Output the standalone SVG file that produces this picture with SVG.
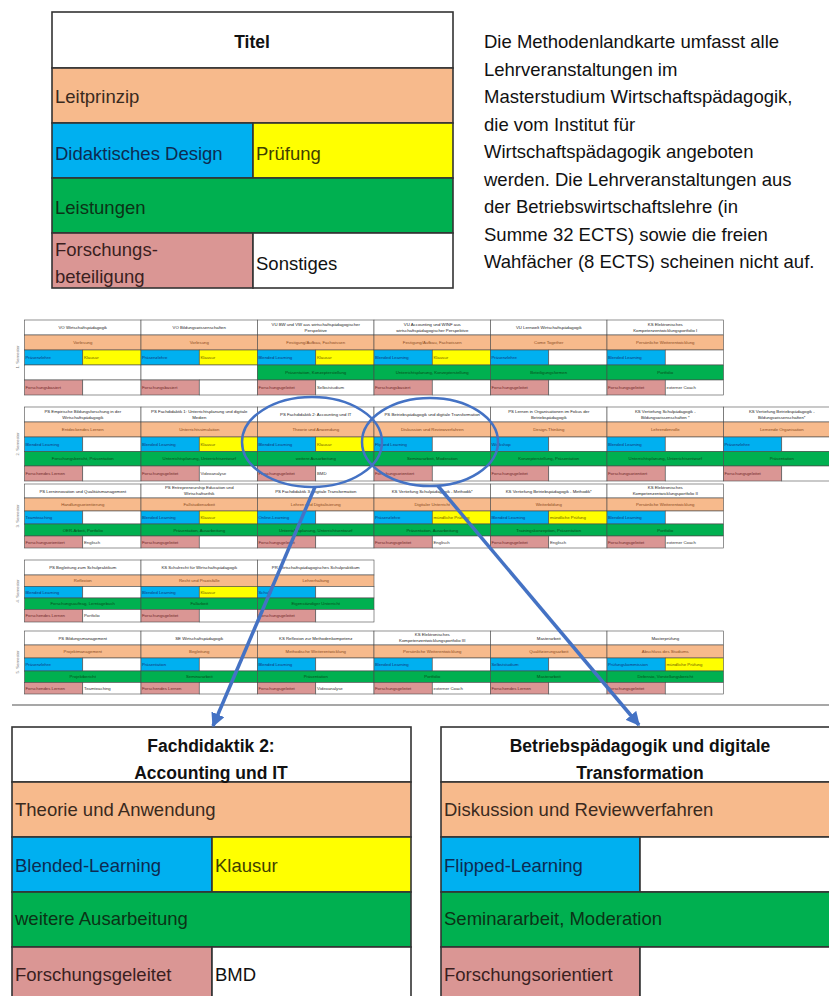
<svg xmlns="http://www.w3.org/2000/svg" width="829" height="996" viewBox="0 0 829 996">
<defs>
<style>
text{font-family:"Liberation Sans",Arial,sans-serif}
.h,.o,.b,.y,.g,.p,.w{stroke:#4a4a4a;stroke-width:0.6}
.h,.w{fill:#fff}.o{fill:#F7BA8C}.b{fill:#00B0F0}.y{fill:#FFFF00}.g{fill:#00B050}.p{fill:#DA9694}
.L .h,.L .o,.L .b,.L .y,.L .g,.L .p,.L .w{stroke:#333;stroke-width:1.6}
.th,.to,.tg{text-anchor:middle}
.gr text{font-size:4.3px}
.th{fill:#222}.to{fill:#8a4a1e}.tb{fill:#12357a}.ty{fill:#6b5a00}.tg{fill:#0a4a1a}.tp{fill:#6e2626}.tw{fill:#333}
.big{font-size:18.5px}
.bo{fill:#3a2a1e}.bb{fill:#0d2b52}.by{fill:#3f3f00}.bg{fill:#0b3316}.bp{fill:#3a1f1f}.bw{fill:#111}
.ttl{font-size:17.5px;font-weight:bold;text-anchor:middle;fill:#111}
.sem{font-size:4.3px;fill:#777;text-anchor:middle}
.para{font-size:18.5px;fill:#111}
</style>
<marker id="ah" viewBox="0 0 10 10" refX="9" refY="5" markerWidth="4" markerHeight="4" orient="auto" markerUnits="strokeWidth">
<path d="M0,0 L10,5 L0,10 Z" fill="#4472C4"/>
</marker>
</defs>
<rect width="829" height="996" fill="#fff"/>

<!-- Legend -->
<g id="legend" class="L">
<rect class="h" x="52" y="12" width="401" height="56"/>
<rect class="o" x="52" y="68" width="401" height="55"/>
<rect class="b" x="52" y="123" width="201" height="55"/>
<rect class="y" x="253" y="123" width="200" height="55"/>
<rect class="g" x="52" y="178" width="401" height="55"/>
<rect class="p" x="52" y="233" width="201" height="55"/>
<rect class="w" x="253" y="233" width="200" height="55"/>
<text class="ttl" x="252" y="48">Titel</text>
<text class="big bo" x="55" y="103">Leitprinzip</text>
<text class="big bb" x="55" y="160">Didaktisches Design</text>
<text class="big by" x="256" y="160">Prüfung</text>
<text class="big bg" x="55" y="214">Leistungen</text>
<text class="big bp" x="55" y="256">Forschungs-</text>
<text class="big bp" x="55" y="283">beteiligung</text>
<text class="big bw" x="256" y="270">Sonstiges</text>
</g>

<g id="description">
<text class="para" x="484" y="48">Die Methodenlandkarte umfasst alle</text>
<text class="para" x="484" y="75.5">Lehrveranstaltungen im</text>
<text class="para" x="484" y="103">Masterstudium Wirtschaftspädagogik,</text>
<text class="para" x="484" y="130.5">die vom Institut für</text>
<text class="para" x="484" y="158">Wirtschaftspädagogik angeboten</text>
<text class="para" x="484" y="185.5">werden. Die Lehrveranstaltungen aus</text>
<text class="para" x="484" y="213">der Betriebswirtschaftslehre (in</text>
<text class="para" x="484" y="240.5">Summe 32 ECTS) sowie die freien</text>
<text class="para" x="484" y="268">Wahfächer (8 ECTS) scheinen nicht auf.</text>
</g>

<!-- Grid -->
<g id="grid" class="gr">
<text class="sem" transform="translate(19,357) rotate(-90)">1. Semester</text>
<text class="sem" transform="translate(19,444) rotate(-90)">2. Semester</text>
<text class="sem" transform="translate(19,516) rotate(-90)">3. Semester</text>
<text class="sem" transform="translate(19,591) rotate(-90)">4. Semester</text>
<text class="sem" transform="translate(19,662) rotate(-90)">5. Semester</text>

<!-- Semester 1 -->
<g id="s1c1" transform="translate(24.5,320)">
<rect class="h" width="116.5" height="15"/><rect class="o" y="15" width="116.5" height="15"/>
<rect class="b" y="30" width="58.25" height="15"/><rect class="y" x="58.25" y="30" width="58.25" height="15"/>
<rect class="w" y="45" width="116.5" height="15"/>
<rect class="p" y="60" width="58.25" height="15"/><rect class="w" x="58.25" y="60" width="58.25" height="15"/>
<text class="th" x="58.25" y="9.1">VO Wirtschaftspädagogik</text>
<text class="to" x="58.25" y="24.1">Vorlesung</text>
<text class="tb" x="1" y="39.1">Präsenzlehre</text><text class="ty" x="59.5" y="39.1">Klausur</text>
<text class="tp" x="1" y="69.1">Forschungsbasiert</text>
</g>
<g id="s1c2" transform="translate(141,320)">
<rect class="h" width="116.5" height="15"/><rect class="o" y="15" width="116.5" height="15"/>
<rect class="b" y="30" width="58.25" height="15"/><rect class="y" x="58.25" y="30" width="58.25" height="15"/>
<rect class="w" y="45" width="116.5" height="15"/>
<rect class="p" y="60" width="58.25" height="15"/><rect class="w" x="58.25" y="60" width="58.25" height="15"/>
<text class="th" x="58.25" y="9.1">VO Bildungswissenschaften</text>
<text class="to" x="58.25" y="24.1">Vorlesung</text>
<text class="tb" x="1" y="39.1">Präsenzlehre</text><text class="ty" x="59.5" y="39.1">Klausur</text>
<text class="tp" x="1" y="69.1">Forschungsbasiert</text>
</g>
<g id="s1c3" transform="translate(257.5,320)">
<rect class="h" width="116.5" height="15"/><rect class="o" y="15" width="116.5" height="15"/>
<rect class="b" y="30" width="58.25" height="15"/><rect class="y" x="58.25" y="30" width="58.25" height="15"/>
<rect class="g" y="45" width="116.5" height="15"/>
<rect class="p" y="60" width="58.25" height="15"/><rect class="w" x="58.25" y="60" width="58.25" height="15"/>
<text class="th" x="58.25" y="5.6">VU BW und VW aus wirtschaftspädagogischer</text>
<text class="th" x="58.25" y="11.6">Perspektive</text>
<text class="to" x="58.25" y="24.1">Festigung/Aufbau, Fachwissen</text>
<text class="tb" x="1" y="39.1">Blended Learning</text><text class="ty" x="59.5" y="39.1">Klausur</text>
<text class="tg" x="58.25" y="54.1">Präsentation, Konzepterstellung</text>
<text class="tp" x="1" y="69.1">Forschungsgeleitet</text><text class="tw" x="59.5" y="69.1">Selbststudium</text>
</g>
<g id="s1c4" transform="translate(374,320)">
<rect class="h" width="116.5" height="15"/><rect class="o" y="15" width="116.5" height="15"/>
<rect class="b" y="30" width="58.25" height="15"/><rect class="y" x="58.25" y="30" width="58.25" height="15"/>
<rect class="g" y="45" width="116.5" height="15"/>
<rect class="p" y="60" width="58.25" height="15"/><rect class="w" x="58.25" y="60" width="58.25" height="15"/>
<text class="th" x="58.25" y="5.6">VU Accounting und WINF aus</text>
<text class="th" x="58.25" y="11.6">wirtschaftspädagogischer Perspektive</text>
<text class="to" x="58.25" y="24.1">Festigung/Aufbau, Fachwissen</text>
<text class="tb" x="1" y="39.1">Blended Learning</text><text class="ty" x="59.5" y="39.1">Klausur</text>
<text class="tg" x="58.25" y="54.1">Unterrichtsplanung, Konzepterstellung</text>
<text class="tp" x="1" y="69.1">Forschungsbasiert</text>
</g>
<g id="s1c5" transform="translate(490.5,320)">
<rect class="h" width="116.5" height="15"/><rect class="o" y="15" width="116.5" height="15"/>
<rect class="b" y="30" width="58.25" height="15"/><rect class="w" x="58.25" y="30" width="58.25" height="15"/>
<rect class="g" y="45" width="116.5" height="15"/>
<rect class="p" y="60" width="58.25" height="15"/><rect class="w" x="58.25" y="60" width="58.25" height="15"/>
<text class="th" x="58.25" y="9.1">VU Lernwelt Wirtschaftspädagogik</text>
<text class="to" x="58.25" y="24.1">Come Together</text>
<text class="tb" x="1" y="39.1">Präsenzlehre</text>
<text class="tg" x="58.25" y="54.1">Beteiligungsformen</text>
<text class="tp" x="1" y="69.1">Forschungsgeleitet</text>
</g>
<g id="s1c6" transform="translate(607,320)">
<rect class="h" width="116.5" height="15"/><rect class="o" y="15" width="116.5" height="15"/>
<rect class="b" y="30" width="58.25" height="15"/><rect class="w" x="58.25" y="30" width="58.25" height="15"/>
<rect class="g" y="45" width="116.5" height="15"/>
<rect class="p" y="60" width="58.25" height="15"/><rect class="w" x="58.25" y="60" width="58.25" height="15"/>
<text class="th" x="58.25" y="5.6">KS Elektronisches</text>
<text class="th" x="58.25" y="11.6">Kompetenzentwicklungsportfolio I</text>
<text class="to" x="58.25" y="24.1">Persönliche Weiterentwicklung</text>
<text class="tb" x="1" y="39.1">Blended Learning</text>
<text class="tg" x="58.25" y="54.1">Portfolio</text>
<text class="tp" x="1" y="69.1">Forschungsgeleitet</text><text class="tw" x="59.5" y="69.1">externer Coach</text>
</g>

<!-- Semester 2 -->
<g id="s2c1" transform="translate(24.5,407)">
<rect class="h" width="116.5" height="15"/><rect class="o" y="15" width="116.5" height="15"/>
<rect class="b" y="30" width="58.25" height="14.5"/><rect class="w" x="58.25" y="30" width="58.25" height="14.5"/>
<rect class="g" y="44.5" width="116.5" height="14.5"/>
<rect class="p" y="59" width="58.25" height="15"/><rect class="w" x="58.25" y="59" width="58.25" height="15"/>
<text class="th" x="58.25" y="5.6">PS Empirische Bildungsforschung in der</text>
<text class="th" x="58.25" y="11.6">Wirtschaftspädagogik</text>
<text class="to" x="58.25" y="24.1">Entdeckendes Lernen</text>
<text class="tb" x="1" y="38.9">Blended Learning</text>
<text class="tg" x="58.25" y="53.4">Forschungsbericht, Präsentation</text>
<text class="tp" x="1" y="68.1">Forschendes Lernen</text>
</g>
<g id="s2c2" transform="translate(141,407)">
<rect class="h" width="116.5" height="15"/><rect class="o" y="15" width="116.5" height="15"/>
<rect class="b" y="30" width="58.25" height="14.5"/><rect class="y" x="58.25" y="30" width="58.25" height="14.5"/>
<rect class="g" y="44.5" width="116.5" height="14.5"/>
<rect class="p" y="59" width="58.25" height="15"/><rect class="w" x="58.25" y="59" width="58.25" height="15"/>
<text class="th" x="58.25" y="5.6">PS Fachdidaktik 1: Unterrichtsplanung und digitale</text>
<text class="th" x="58.25" y="11.6">Medien</text>
<text class="to" x="58.25" y="24.1">Unterrichtssimulation</text>
<text class="tb" x="1" y="38.9">Blended Learning</text><text class="ty" x="59.5" y="38.9">Klausur</text>
<text class="tg" x="58.25" y="53.4">Unterrichtsplanung, Unterrichtsentwurf</text>
<text class="tp" x="1" y="68.1">Forschungsgeleitet</text><text class="tw" x="59.5" y="68.1">Videoanalyse</text>
</g>
<g id="s2c3" transform="translate(257.5,407)">
<rect class="h" width="116.5" height="15"/><rect class="o" y="15" width="116.5" height="15"/>
<rect class="b" y="30" width="58.25" height="14.5"/><rect class="y" x="58.25" y="30" width="58.25" height="14.5"/>
<rect class="g" y="44.5" width="116.5" height="14.5"/>
<rect class="p" y="59" width="58.25" height="15"/><rect class="w" x="58.25" y="59" width="58.25" height="15"/>
<text class="th" x="58.25" y="9.1">PS Fachdidaktik 2: Accounting und IT</text>
<text class="to" x="58.25" y="24.1">Theorie und Anwendung</text>
<text class="tb" x="1" y="38.9">Blended Learning</text><text class="ty" x="59.5" y="38.9">Klausur</text>
<text class="tg" x="58.25" y="53.4">weitere Ausarbeitung</text>
<text class="tp" x="1" y="68.1">Forschungsgeleitet</text><text class="tw" x="59.5" y="68.1">BMD</text>
</g>
<g id="s2c4" transform="translate(374,407)">
<rect class="h" width="116.5" height="15"/><rect class="o" y="15" width="116.5" height="15"/>
<rect class="b" y="30" width="58.25" height="14.5"/><rect class="w" x="58.25" y="30" width="58.25" height="14.5"/>
<rect class="g" y="44.5" width="116.5" height="14.5"/>
<rect class="p" y="59" width="58.25" height="15"/><rect class="w" x="58.25" y="59" width="58.25" height="15"/>
<text class="th" x="58.25" y="9.1">PS Betriebspädagogik und digitale Transformation</text>
<text class="to" x="58.25" y="24.1">Diskussion und Reviewverfahren</text>
<text class="tb" x="1" y="38.9">Flipped Learning</text>
<text class="tg" x="58.25" y="53.4">Seminararbeit, Moderation</text>
<text class="tp" x="1" y="68.1">Forschungsorientiert</text>
</g>
<g id="s2c5" transform="translate(490.5,407)">
<rect class="h" width="116.5" height="15"/><rect class="o" y="15" width="116.5" height="15"/>
<rect class="b" y="30" width="58.25" height="14.5"/><rect class="w" x="58.25" y="30" width="58.25" height="14.5"/>
<rect class="g" y="44.5" width="116.5" height="14.5"/>
<rect class="p" y="59" width="58.25" height="15"/><rect class="w" x="58.25" y="59" width="58.25" height="15"/>
<text class="th" x="58.25" y="5.6">PS Lernen in Organisationen im Fokus der</text>
<text class="th" x="58.25" y="11.6">Betriebspädagogik</text>
<text class="to" x="58.25" y="24.1">Design-Thinking</text>
<text class="tb" x="1" y="38.9">Workshop</text>
<text class="tg" x="58.25" y="53.4">Konzepterstellung, Präsentation</text>
<text class="tp" x="1" y="68.1">Forschungsgeleitet</text>
</g>
<g id="s2c6" transform="translate(607,407)">
<rect class="h" width="116.5" height="15"/><rect class="o" y="15" width="116.5" height="15"/>
<rect class="b" y="30" width="58.25" height="14.5"/><rect class="w" x="58.25" y="30" width="58.25" height="14.5"/>
<rect class="g" y="44.5" width="116.5" height="14.5"/>
<rect class="p" y="59" width="58.25" height="15"/><rect class="w" x="58.25" y="59" width="58.25" height="15"/>
<text class="th" x="58.25" y="5.6">KS Vertiefung Schulpädagogik -</text>
<text class="th" x="58.25" y="11.6">Bildungswissenschaften *</text>
<text class="to" x="58.25" y="24.1">Lehrendenrolle</text>
<text class="tb" x="1" y="38.9">Blended Learning</text>
<text class="tg" x="58.25" y="53.4">Unterrichtsplanung, Unterrichtsentwurf</text>
<text class="tp" x="1" y="68.1">Forschungsorientiert</text>
</g>
<g id="s2c7" transform="translate(723.5,407)">
<rect class="h" width="116.5" height="15"/><rect class="o" y="15" width="116.5" height="15"/>
<rect class="b" y="30" width="58.25" height="14.5"/><rect class="w" x="58.25" y="30" width="58.25" height="14.5"/>
<rect class="g" y="44.5" width="116.5" height="14.5"/>
<rect class="p" y="59" width="58.25" height="15"/><rect class="w" x="58.25" y="59" width="58.25" height="15"/>
<text class="th" x="58.25" y="5.6">KS Vertiefung Betriebspädagogik -</text>
<text class="th" x="58.25" y="11.6">Bildungswissenschaften*</text>
<text class="to" x="58.25" y="24.1">Lernende Organisation</text>
<text class="tb" x="1" y="38.9">Präsenzlehre</text>
<text class="tg" x="58.25" y="53.4">Präsentation</text>
<text class="tp" x="1" y="68.1">Forschungsgeleitet</text>
</g>

<!-- Semester 3 -->
<g id="s3c1" transform="translate(24.5,484)">
<rect class="h" width="116.5" height="14"/><rect class="o" y="14" width="116.5" height="13"/>
<rect class="b" y="27" width="58.25" height="13"/><rect class="w" x="58.25" y="27" width="58.25" height="13"/>
<rect class="g" y="40" width="116.5" height="12"/>
<rect class="p" y="52" width="58.25" height="12"/><rect class="w" x="58.25" y="52" width="58.25" height="12"/>
<text class="th" x="58.25" y="8.6">PS Lerninnovation und Qualitätsmanagement</text>
<text class="to" x="58.25" y="22.1">Handlungsorientierung</text>
<text class="tb" x="1" y="35.1">Teamteaching</text>
<text class="tg" x="58.25" y="47.6">OER-Arbeit, Portfolio</text>
<text class="tp" x="1" y="59.6">Forschungsorientiert</text><text class="tw" x="59.5" y="59.6">Englisch</text>
</g>
<g id="s3c2" transform="translate(141,484)">
<rect class="h" width="116.5" height="14"/><rect class="o" y="14" width="116.5" height="13"/>
<rect class="b" y="27" width="58.25" height="13"/><rect class="y" x="58.25" y="27" width="58.25" height="13"/>
<rect class="g" y="40" width="116.5" height="12"/>
<rect class="p" y="52" width="58.25" height="12"/><rect class="w" x="58.25" y="52" width="58.25" height="12"/>
<text class="th" x="58.25" y="5.1">PS Entrepreneurship Education und</text>
<text class="th" x="58.25" y="11.1">Wirtschaftsethik</text>
<text class="to" x="58.25" y="22.1">Fallstudienarbeit</text>
<text class="tb" x="1" y="35.1">Blended Learning</text><text class="ty" x="59.5" y="35.1">Klausur</text>
<text class="tg" x="58.25" y="47.6">Präsentation, Ausarbeitung</text>
<text class="tp" x="1" y="59.6">Forschungsgeleitet</text>
</g>
<g id="s3c3" transform="translate(257.5,484)">
<rect class="h" width="116.5" height="14"/><rect class="o" y="14" width="116.5" height="13"/>
<rect class="b" y="27" width="58.25" height="13"/><rect class="w" x="58.25" y="27" width="58.25" height="13"/>
<rect class="g" y="40" width="116.5" height="12"/>
<rect class="p" y="52" width="58.25" height="12"/><rect class="w" x="58.25" y="52" width="58.25" height="12"/>
<text class="th" x="58.25" y="8.6">PS Fachdidaktik 3: Digitale Transformation</text>
<text class="to" x="58.25" y="22.1">Lehren und Digitalisierung</text>
<text class="tb" x="1" y="35.1">Online-Learning</text>
<text class="tg" x="58.25" y="47.6">Unterrichtsplanung, Unterrichtsentwurf</text>
<text class="tp" x="1" y="59.6">Forschungsgeleitet</text>
</g>
<g id="s3c4" transform="translate(374,484)">
<rect class="h" width="116.5" height="14"/><rect class="o" y="14" width="116.5" height="13"/>
<rect class="b" y="27" width="58.25" height="13"/><rect class="y" x="58.25" y="27" width="58.25" height="13"/>
<rect class="g" y="40" width="116.5" height="12"/>
<rect class="p" y="52" width="58.25" height="12"/><rect class="w" x="58.25" y="52" width="58.25" height="12"/>
<text class="th" x="58.25" y="8.6">KS Vertiefung Schulpädagogik - Methodik*</text>
<text class="to" x="58.25" y="22.1">Digitaler Unterricht</text>
<text class="tb" x="1" y="35.1">Präsenzlehre</text><text class="ty" x="59.5" y="35.1">mündliche Prüfung</text>
<text class="tg" x="58.25" y="47.6">Präsentation, Ausarbeitung</text>
<text class="tp" x="1" y="59.6">Forschungsgeleitet</text><text class="tw" x="59.5" y="59.6">Englisch</text>
</g>
<g id="s3c5" transform="translate(490.5,484)">
<rect class="h" width="116.5" height="14"/><rect class="o" y="14" width="116.5" height="13"/>
<rect class="b" y="27" width="58.25" height="13"/><rect class="y" x="58.25" y="27" width="58.25" height="13"/>
<rect class="g" y="40" width="116.5" height="12"/>
<rect class="p" y="52" width="58.25" height="12"/><rect class="w" x="58.25" y="52" width="58.25" height="12"/>
<text class="th" x="58.25" y="8.6">KS Vertiefung Betriebspädagogik - Methodik*</text>
<text class="to" x="58.25" y="22.1">Weiterbildung</text>
<text class="tb" x="1" y="35.1">Blended Learning</text><text class="ty" x="59.5" y="35.1">mündliche Prüfung</text>
<text class="tg" x="58.25" y="47.6">Trainingskonzeption, Präsentation</text>
<text class="tp" x="1" y="59.6">Forschungsgeleitet</text><text class="tw" x="59.5" y="59.6">Englisch</text>
</g>
<g id="s3c6" transform="translate(607,484)">
<rect class="h" width="116.5" height="14"/><rect class="o" y="14" width="116.5" height="13"/>
<rect class="b" y="27" width="58.25" height="13"/><rect class="w" x="58.25" y="27" width="58.25" height="13"/>
<rect class="g" y="40" width="116.5" height="12"/>
<rect class="p" y="52" width="58.25" height="12"/><rect class="w" x="58.25" y="52" width="58.25" height="12"/>
<text class="th" x="58.25" y="5.1">KS Elektronisches</text>
<text class="th" x="58.25" y="11.1">Kompetenzentwicklungsportfolio II</text>
<text class="to" x="58.25" y="22.1">Persönliche Weiterentwicklung</text>
<text class="tb" x="1" y="35.1">Blended Learning</text>
<text class="tg" x="58.25" y="47.6">Portfolio</text>
<text class="tp" x="1" y="59.6">Forschungsgeleitet</text><text class="tw" x="59.5" y="59.6">externer Coach</text>
</g>

<!-- Semester 4 -->
<g id="s4c1" transform="translate(24.5,560)">
<rect class="h" width="116.5" height="15"/><rect class="o" y="15" width="116.5" height="11.5"/>
<rect class="b" y="26.5" width="58.25" height="11.5"/><rect class="w" x="58.25" y="26.5" width="58.25" height="11.5"/>
<rect class="g" y="38" width="116.5" height="11.5"/>
<rect class="p" y="49.5" width="58.25" height="12.5"/><rect class="w" x="58.25" y="49.5" width="58.25" height="12.5"/>
<text class="th" x="58.25" y="9.1">PS Begleitung zum Schulpraktikum</text>
<text class="to" x="58.25" y="22.4">Reflexion</text>
<text class="tb" x="1" y="33.9">Blended Learning</text>
<text class="tg" x="58.25" y="45.4">Forschungsauftrag, Lerntagebuch</text>
<text class="tp" x="1" y="57.4">Forschendes Lernen</text><text class="tw" x="59.5" y="57.4">Portfolio</text>
</g>
<g id="s4c2" transform="translate(141,560)">
<rect class="h" width="116.5" height="15"/><rect class="o" y="15" width="116.5" height="11.5"/>
<rect class="b" y="26.5" width="58.25" height="11.5"/><rect class="y" x="58.25" y="26.5" width="58.25" height="11.5"/>
<rect class="g" y="38" width="116.5" height="11.5"/>
<rect class="p" y="49.5" width="58.25" height="12.5"/><rect class="w" x="58.25" y="49.5" width="58.25" height="12.5"/>
<text class="th" x="58.25" y="9.1">KS Schulrecht für Wirtschaftspädagogik</text>
<text class="to" x="58.25" y="22.4">Recht und Praxisfälle</text>
<text class="tb" x="1" y="33.9">Blended Learning</text><text class="ty" x="59.5" y="33.9">Klausur</text>
<text class="tg" x="58.25" y="45.4">Fallarbeit</text>
<text class="tp" x="1" y="57.4">Forschungsgeleitet</text>
</g>
<g id="s4c3" transform="translate(257.5,560)">
<rect class="h" width="116.5" height="15"/><rect class="o" y="15" width="116.5" height="11.5"/>
<rect class="b" y="26.5" width="58.25" height="11.5"/><rect class="w" x="58.25" y="26.5" width="58.25" height="11.5"/>
<rect class="g" y="38" width="116.5" height="11.5"/>
<rect class="p" y="49.5" width="58.25" height="12.5"/><rect class="w" x="58.25" y="49.5" width="58.25" height="12.5"/>
<text class="th" x="58.25" y="9.1">PR Wirtschaftspädagogisches Schulpraktikum</text>
<text class="to" x="58.25" y="22.4">Lehrerhaltung</text>
<text class="tb" x="1" y="33.9">Schule</text>
<text class="tg" x="58.25" y="45.4">Eigenständiger Unterricht</text>
<text class="tp" x="1" y="57.4">Forschungsgeleitet</text>
</g>

<!-- Semester 5 -->
<g id="s5c1" transform="translate(24.5,631)">
<rect class="h" width="116.5" height="14"/><rect class="o" y="14" width="116.5" height="13"/>
<rect class="b" y="27" width="58.25" height="13"/><rect class="w" x="58.25" y="27" width="58.25" height="13"/>
<rect class="g" y="40" width="116.5" height="11.5"/>
<rect class="p" y="51.5" width="58.25" height="11.5"/><rect class="w" x="58.25" y="51.5" width="58.25" height="11.5"/>
<text class="th" x="58.25" y="8.6">PS Bildungsmanagement</text>
<text class="to" x="58.25" y="22.1">Projektmanagement</text>
<text class="tb" x="1" y="35.1">Präsenzlehre</text>
<text class="tg" x="58.25" y="47.4">Projektbericht</text>
<text class="tp" x="1" y="58.9">Forschendes Lernen</text><text class="tw" x="59.5" y="58.9">Teamteaching</text>
</g>
<g id="s5c2" transform="translate(141,631)">
<rect class="h" width="116.5" height="14"/><rect class="o" y="14" width="116.5" height="13"/>
<rect class="b" y="27" width="58.25" height="13"/><rect class="w" x="58.25" y="27" width="58.25" height="13"/>
<rect class="g" y="40" width="116.5" height="11.5"/>
<rect class="p" y="51.5" width="58.25" height="11.5"/><rect class="w" x="58.25" y="51.5" width="58.25" height="11.5"/>
<text class="th" x="58.25" y="8.6">SE Wirtschaftspädagogik</text>
<text class="to" x="58.25" y="22.1">Begleitung</text>
<text class="tb" x="1" y="35.1">Präsentation</text>
<text class="tg" x="58.25" y="47.4">Seminararbeit</text>
<text class="tp" x="1" y="58.9">Forschendes Lernen</text>
</g>
<g id="s5c3" transform="translate(257.5,631)">
<rect class="h" width="116.5" height="14"/><rect class="o" y="14" width="116.5" height="13"/>
<rect class="b" y="27" width="58.25" height="13"/><rect class="w" x="58.25" y="27" width="58.25" height="13"/>
<rect class="g" y="40" width="116.5" height="11.5"/>
<rect class="p" y="51.5" width="58.25" height="11.5"/><rect class="w" x="58.25" y="51.5" width="58.25" height="11.5"/>
<text class="th" x="58.25" y="8.6">KS Reflexion zur Methodenkompetenz</text>
<text class="to" x="58.25" y="22.1">Methodische Weiterentwicklung</text>
<text class="tb" x="1" y="35.1">Blended Learning</text>
<text class="tg" x="58.25" y="47.4">Präsentation</text>
<text class="tp" x="1" y="58.9">Forschungsgeleitet</text><text class="tw" x="59.5" y="58.9">Videoanalyse</text>
</g>
<g id="s5c4" transform="translate(374,631)">
<rect class="h" width="116.5" height="14"/><rect class="o" y="14" width="116.5" height="13"/>
<rect class="b" y="27" width="58.25" height="13"/><rect class="w" x="58.25" y="27" width="58.25" height="13"/>
<rect class="g" y="40" width="116.5" height="11.5"/>
<rect class="p" y="51.5" width="58.25" height="11.5"/><rect class="w" x="58.25" y="51.5" width="58.25" height="11.5"/>
<text class="th" x="58.25" y="5.1">KS Elektronisches</text>
<text class="th" x="58.25" y="11.1">Kompetenzentwicklungsportfolio III</text>
<text class="to" x="58.25" y="22.1">Persönliche Weiterentwicklung</text>
<text class="tb" x="1" y="35.1">Blended Learning</text>
<text class="tg" x="58.25" y="47.4">Portfolio</text>
<text class="tp" x="1" y="58.9">Forschungsgeleitet</text><text class="tw" x="59.5" y="58.9">externer Coach</text>
</g>
<g id="s5c5" transform="translate(490.5,631)">
<rect class="h" width="116.5" height="14"/><rect class="o" y="14" width="116.5" height="13"/>
<rect class="b" y="27" width="58.25" height="13"/><rect class="w" x="58.25" y="27" width="58.25" height="13"/>
<rect class="g" y="40" width="116.5" height="11.5"/>
<rect class="p" y="51.5" width="58.25" height="11.5"/><rect class="w" x="58.25" y="51.5" width="58.25" height="11.5"/>
<text class="th" x="58.25" y="8.6">Masterarbeit</text>
<text class="to" x="58.25" y="22.1">Qualifizierungsarbeit</text>
<text class="tb" x="1" y="35.1">Selbststudium</text>
<text class="tg" x="58.25" y="47.4">Masterarbeit</text>
<text class="tp" x="1" y="58.9">Forschendes Lernen</text>
</g>
<g id="s5c6" transform="translate(607,631)">
<rect class="h" width="116.5" height="14"/><rect class="o" y="14" width="116.5" height="13"/>
<rect class="b" y="27" width="58.25" height="13"/><rect class="y" x="58.25" y="27" width="58.25" height="13"/>
<rect class="g" y="40" width="116.5" height="11.5"/>
<rect class="p" y="51.5" width="58.25" height="11.5"/><rect class="w" x="58.25" y="51.5" width="58.25" height="11.5"/>
<text class="th" x="58.25" y="8.6">Masterprüfung</text>
<text class="to" x="58.25" y="22.1">Abschluss des Studiums</text>
<text class="tb" x="1" y="35.1">Prüfungskommission</text><text class="ty" x="59.5" y="35.1">mündliche Prüfung</text>
<text class="tg" x="58.25" y="47.4">Defensio, Vorstellungsbericht</text>
<text class="tp" x="1" y="58.9">Forschungsgeleitet</text>
</g>
</g>

<line x1="12" y1="705" x2="829" y2="705" stroke="#8a8a8a" stroke-width="1.5"/>

<!-- Detail boxes -->
<g id="detail1" class="L">
<rect class="h" x="12" y="727" width="399" height="55"/>
<rect class="o" x="12" y="782" width="399" height="55"/>
<rect class="b" x="12" y="837" width="200" height="55"/>
<rect class="y" x="212" y="837" width="199" height="55"/>
<rect class="g" x="12" y="892" width="399" height="55"/>
<rect class="p" x="12" y="947" width="200" height="55"/>
<rect class="w" x="212" y="947" width="199" height="55"/>
<text class="ttl" x="211" y="752">Fachdidaktik 2:</text>
<text class="ttl" x="211" y="779">Accounting und IT</text>
<text class="big bo" x="15" y="816">Theorie und Anwendung</text>
<text class="big bb" x="15" y="872">Blended-Learning</text>
<text class="big by" x="215" y="872">Klausur</text>
<text class="big bg" x="15" y="925">weitere Ausarbeitung</text>
<text class="big bp" x="15" y="981">Forschungsgeleitet</text>
<text class="big bw" x="215" y="981">BMD</text>
</g>
<g id="detail2" class="L">
<rect class="h" x="441" y="727" width="399" height="55"/>
<rect class="o" x="441" y="782" width="399" height="55"/>
<rect class="b" x="441" y="837" width="199" height="55"/>
<rect class="w" x="640" y="837" width="200" height="55"/>
<rect class="g" x="441" y="892" width="399" height="55"/>
<rect class="p" x="441" y="947" width="199" height="55"/>
<rect class="w" x="640" y="947" width="200" height="55"/>
<text class="ttl" x="640" y="752">Betriebspädagogik und digitale</text>
<text class="ttl" x="640" y="779">Transformation</text>
<text class="big bo" x="444" y="816">Diskussion und Reviewverfahren</text>
<text class="big bb" x="444" y="872">Flipped-Learning</text>
<text class="big bg" x="444" y="925">Seminararbeit, Moderation</text>
<text class="big bp" x="444" y="981">Forschungsorientiert</text>
</g>

<!-- Connectors -->
<g id="connectors" fill="none" stroke="#4472C4">
<ellipse cx="312" cy="442" rx="70" ry="45" stroke-width="2.5"/>
<ellipse cx="430" cy="442" rx="68" ry="44" stroke-width="2.5"/>
<line x1="315" y1="487" x2="213" y2="726" stroke-width="3.5" marker-end="url(#ah)"/>
<line x1="438" y1="486" x2="639" y2="725" stroke-width="3.5" marker-end="url(#ah)"/>
</g>
</svg>
